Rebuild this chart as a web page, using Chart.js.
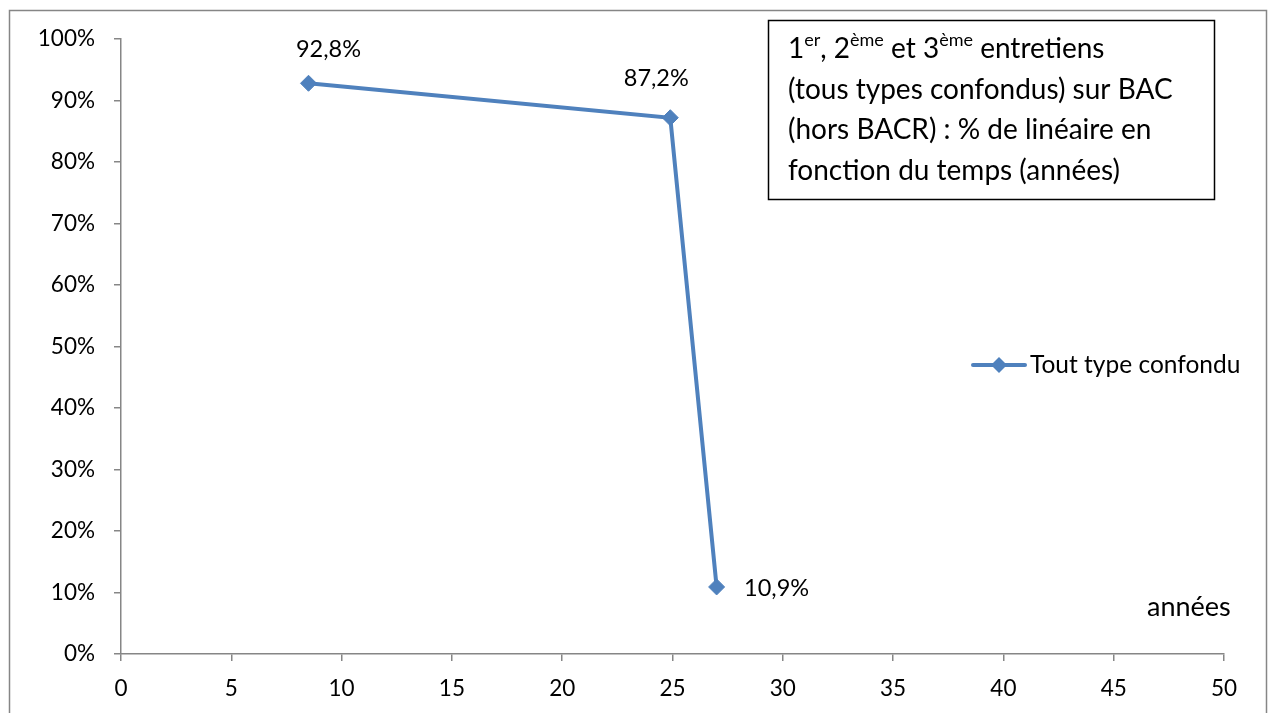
<!DOCTYPE html>
<html>
<head>
<meta charset="utf-8">
<script src="https://cdn.jsdelivr.net/npm/chart.js@4"></script>
<style>
  html, body { margin: 0; padding: 0; background: #fff; }
  #wrap { width: 1274px; height: 713px; position: relative; }
</style>
</head>
<body>
<div id="wrap"><canvas id="chart"></canvas></div>
<script>
// data
var years = [8.5, 24.9, 27];
var shares = [92.8, 87.2, 10.9];
var seriesName = 'Tout type confondu';
var xTicks = [0, 5, 10, 15, 20, 25, 30, 35, 40, 45, 50];
var yTicks = [0, 10, 20, 30, 40, 50, 60, 70, 80, 90, 100];
var titleLines = [
    [['1', ''], ['er', 'sup'], [', 2', ''], ['ème', 'sup'], [' et 3', ''], ['ème', 'sup'], [' entretiens', '']],
    [['(tous types confondus) sur BAC', '']],
    [['(hors BACR) : % de linéaire en', '']],
    [['fonction du temps (années)', '']]
];
var axisTitleX = 'années';

var blue = '#4F81BD';
var axisGrey = '#868686';
var fontFamily = 'Lato, "Noto Sans", sans-serif';

function fmt(v) {
    return v.toFixed(1).replace('.', ',') + '%';
}

// value labels next to each point
var labelOffsets = [[20, -34], [-14, -39], [60, 1]];
var pointLabels = {
    id: 'pointLabels',
    afterDatasetsDraw: function (chart) {
        var ctx = chart.ctx;
        var meta = chart.getDatasetMeta(0);
        ctx.save();
        ctx.fillStyle = '#000';
        ctx.font = '23.5px ' + fontFamily;
        ctx.textAlign = 'center';
        ctx.textBaseline = 'middle';
        meta.data.forEach(function (pt, i) {
            var off = labelOffsets[i];
            ctx.fillText(fmt(shares[i]), pt.x + off[0], pt.y + off[1]);
        });
        ctx.restore();
    }
};

// frame, title box, legend, axis title
var decorations = {
    id: 'decorations',
    afterDraw: function (chart) {
        var ctx = chart.ctx;
        ctx.save();

        // outer frame
        ctx.strokeStyle = axisGrey;
        ctx.lineWidth = 1.5;
        ctx.strokeRect(9.5, 10.5, 1257, 720);

        // title box
        ctx.fillStyle = '#fff';
        ctx.fillRect(768, 20, 447, 180);
        ctx.strokeStyle = '#000';
        ctx.lineWidth = 1.5;
        ctx.strokeRect(768.5, 20.5, 446, 179);

        ctx.fillStyle = '#000';
        ctx.textBaseline = 'alphabetic';
        ctx.textAlign = 'left';
        var baseY = 58;
        titleLines.forEach(function (line, li) {
            var x = 788;
            var y = baseY + li * 40.5;
            line.forEach(function (part) {
                if (part[1] === 'sup') {
                    ctx.font = '18px ' + fontFamily;
                    ctx.fillText(part[0], x, y - 12);
                } else {
                    ctx.font = '28px ' + fontFamily;
                    ctx.fillText(part[0], x, y);
                }
                x += ctx.measureText(part[0]).width;
            });
        });

        // legend
        ctx.strokeStyle = blue;
        ctx.lineWidth = 4;
        ctx.lineCap = 'round';
        ctx.beginPath();
        ctx.moveTo(973, 365);
        ctx.lineTo(1025, 365);
        ctx.stroke();
        ctx.fillStyle = blue;
        ctx.beginPath();
        ctx.moveTo(999, 357);
        ctx.lineTo(1007, 365);
        ctx.lineTo(999, 373);
        ctx.lineTo(991, 365);
        ctx.closePath();
        ctx.fill();
        ctx.fillStyle = '#000';
        ctx.font = '24.5px ' + fontFamily;
        ctx.textBaseline = 'middle';
        ctx.fillText(seriesName, 1030, 365);

        // axis title
        ctx.font = '27px ' + fontFamily;
        ctx.fillText(axisTitleX, 1147, 607);

        ctx.restore();
    }
};

var ctx = document.getElementById('chart').getContext('2d');
var chart = new Chart(ctx, {
    type: 'line',
    data: {
        datasets: [{
            label: seriesName,
            data: years.map(function (x, i) { return { x: x, y: shares[i] }; }),
            borderColor: blue,
            backgroundColor: blue,
            borderWidth: 4,
            pointStyle: 'rectRot',
            pointRadius: 8,
            pointHoverRadius: 8,
            pointBackgroundColor: blue,
            pointBorderColor: blue,
            pointBorderWidth: 1,
            tension: 0,
            fill: false
        }]
    },
    options: {
        responsive: true,
        maintainAspectRatio: false,
        animation: false,
        events: [],
        layout: {
            padding: { left: 0, top: 39, right: 50, bottom: 0 }
        },
        scales: {
            x: {
                type: 'linear',
                min: 0,
                max: 50,
                afterBuildTicks: function (scale) {
                    scale.ticks = xTicks.map(function (v) { return { value: v }; });
                },
                afterFit: function (scale) { scale.height = 59; },
                border: { display: true, color: axisGrey, width: 1.5 },
                grid: {
                    drawOnChartArea: false,
                    drawTicks: true,
                    tickLength: 7,
                    color: axisGrey,
                    lineWidth: 1.5
                },
                ticks: {
                    color: '#000',
                    font: { family: fontFamily, size: 22.5 },
                    padding: 14,
                    maxRotation: 0
                }
            },
            y: {
                type: 'linear',
                min: 0,
                max: 100,
                afterBuildTicks: function (scale) {
                    scale.ticks = yTicks.map(function (v) { return { value: v }; });
                },
                afterFit: function (scale) { scale.width = 121; },
                border: { display: true, color: axisGrey, width: 1.5 },
                grid: {
                    drawOnChartArea: false,
                    drawTicks: true,
                    tickLength: 7,
                    color: axisGrey,
                    lineWidth: 1.5
                },
                ticks: {
                    color: '#000',
                    font: { family: fontFamily, size: 22.5 },
                    padding: 19,
                    callback: function (v) { return v + '%'; }
                }
            }
        },
        plugins: {
            legend: { display: false },
            tooltip: { enabled: false },
            title: { display: false }
        }
    },
    plugins: [pointLabels, decorations]
});
</script>
</body>
</html>
